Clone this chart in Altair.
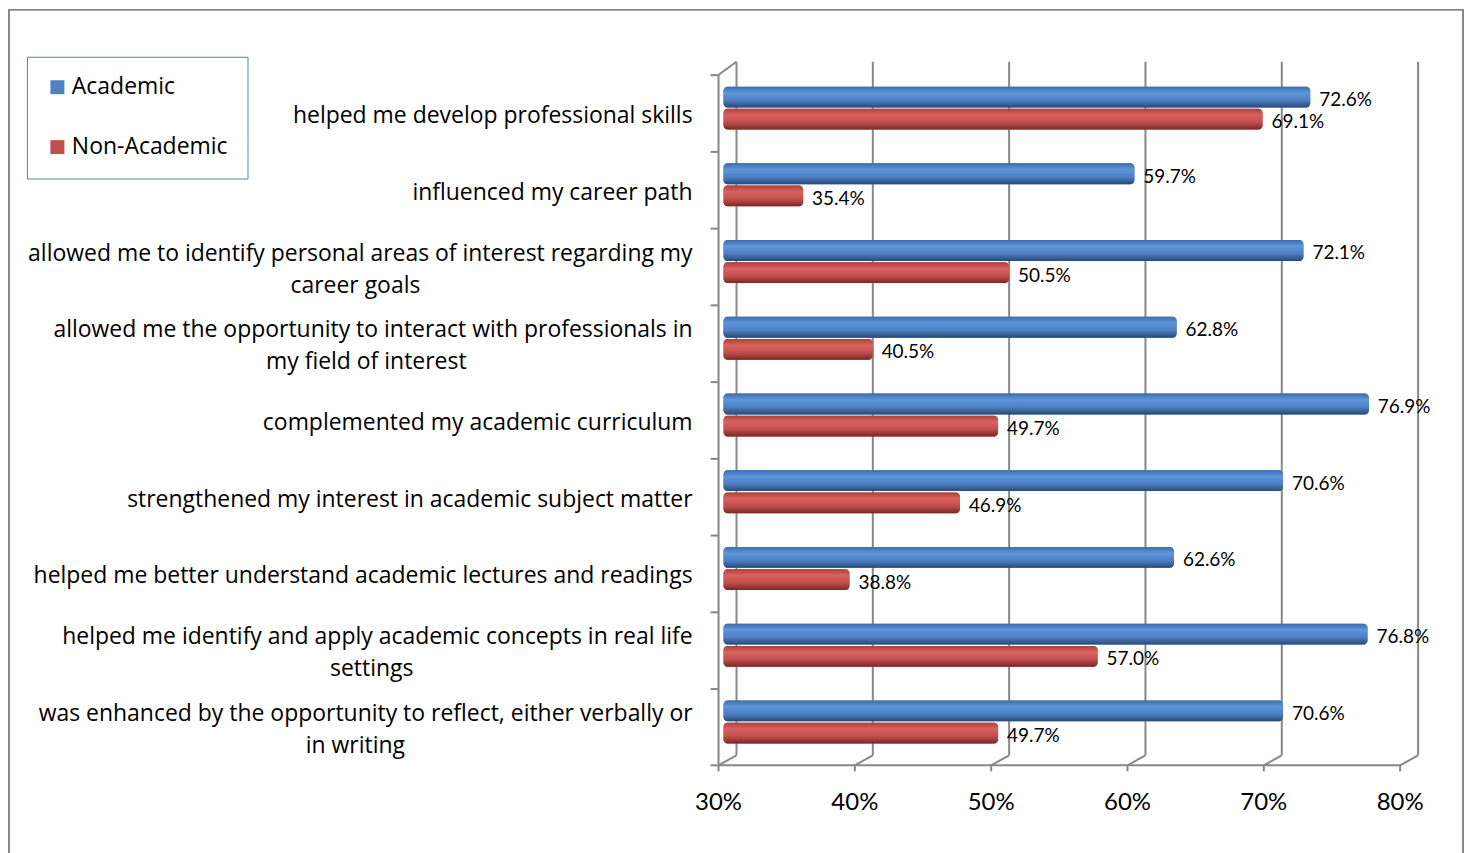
import altair as alt
import pandas as pd

categories = [
    "helped me develop professional skills",
    "influenced my career path",
    "allowed me to identify personal areas of interest regarding my|career goals",
    "allowed me the opportunity to interact with professionals in|my field of interest",
    "complemented my academic curriculum",
    "strengthened my interest in academic subject matter",
    "helped me better understand academic lectures and readings",
    "helped me identify and apply academic concepts in real life|settings",
    "was enhanced by the opportunity to reflect, either verbally or|in writing",
]
academic = [72.6, 59.7, 72.1, 62.8, 76.9, 70.6, 62.6, 76.8, 70.6]
non_academic = [69.1, 35.4, 50.5, 40.5, 49.7, 46.9, 38.8, 57.0, 49.7]
series = ["Academic", "Non-Academic"]
x_ticks = [30, 40, 50, 60, 70, 80]
tick_labels = ["30%", "40%", "50%", "60%", "70%", "80%"]

FONT = "Lato"
LFONT = "Open Sans"
GRID = "#878787"
BLUE = "#4F81BD"
RED = "#C0504D"

rows = []
for c, a, n in zip(categories, academic, non_academic):
    rows.append({"category": c, "series": "Academic", "value": a, "base": x_ticks[0]})
    rows.append({"category": c, "series": "Non-Academic", "value": n, "base": x_ticks[0]})
bar_df = pd.DataFrame(rows)
bar_df["label"] = bar_df["value"].map(lambda v: f"{v:.1f}%")

cat_df = pd.DataFrame({"category": categories})
cat_df["line1"] = [c.split("|")[0] for c in categories]
cat_df["line2"] = [c.split("|")[1] if "|" in c else "" for c in categories]
cat_df["two"] = [("|" in c) for c in categories]
cat_df["base"] = x_ticks[0]

tick_df = pd.DataFrame({"tick": x_ticks, "text": tick_labels})
axis_df = pd.DataFrame({"lo": [x_ticks[0]], "hi": [x_ticks[-1]]})

W, H = 683, 692
x_scale = alt.Scale(domain=[30, 80], nice=False, zero=False)
y_scale = alt.Scale(paddingInner=0.44, paddingOuter=0.22)
Y = alt.Y("category:N", sort=categories, scale=y_scale, axis=None)
YOFF = alt.YOffset("series:N", sort=series, scale=alt.Scale(paddingInner=0.06))


def grad(stops):
    return alt.LinearGradient(
        gradient="linear", x1=0, y1=0, x2=0, y2=1,
        stops=[alt.GradientStop(offset=o, color=c) for o, c in stops],
    )


grad_blue = grad([(0, "#3E6DAA"), (0.3, "#5E95DB"), (0.65, "#4D7FC2"), (1, "#284A78")])
grad_red = grad([(0, "#A9413E"), (0.3, "#DA625F"), (0.65, "#C24F4C"), (1, "#7A2826")])

frame = alt.Chart(axis_df).mark_rect(fillOpacity=0, stroke=GRID, strokeWidth=2).encode(
    x=alt.value(-722), x2=alt.value(735), y=alt.value(-60), y2=alt.value(820)
)

grid = alt.Chart(tick_df).mark_rule(color=GRID, strokeWidth=2, xOffset=7).encode(
    x=alt.X("tick:Q", scale=x_scale, axis=None), y=alt.value(-8), y2=alt.value(687)
)
floor = alt.Chart(tick_df).mark_rule(color=GRID, strokeWidth=2, xOffset=-11, x2Offset=7).encode(
    x=alt.X("tick:Q", scale=x_scale, axis=None), x2="tick:Q", y=alt.value(697), y2=alt.value(687)
)
ticks_down = alt.Chart(tick_df).mark_rule(color=GRID, strokeWidth=2, xOffset=-11).encode(
    x=alt.X("tick:Q", scale=x_scale, axis=None), y=alt.value(697), y2=alt.value(703)
)
axis_line = alt.Chart(axis_df).mark_rule(color=GRID, strokeWidth=2, xOffset=-11, x2Offset=-11).encode(
    x=alt.X("lo:Q", scale=x_scale, axis=None), x2="hi:Q", y=alt.value(697)
)
left_wall = alt.Chart(axis_df).mark_rule(color=GRID, strokeWidth=2, xOffset=-11).encode(
    x=alt.X("lo:Q", scale=x_scale, axis=None), y=alt.value(5), y2=alt.value(697)
)
top_diag = alt.Chart(axis_df).mark_rule(color=GRID, strokeWidth=2, xOffset=-11, x2Offset=7).encode(
    x=alt.X("lo:Q", scale=x_scale, axis=None), x2="lo:Q", y=alt.value(5), y2=alt.value(-8)
)
left_ticks = alt.Chart(cat_df).mark_rule(color=GRID, strokeWidth=2, xOffset=-19, x2Offset=-11, yOffset=-33).encode(
    y=Y, x=alt.X("base:Q", scale=x_scale, axis=None), x2="base:Q"
)
bottom_tick = alt.Chart(axis_df).mark_rule(color=GRID, strokeWidth=2, xOffset=-19, x2Offset=-11).encode(
    y=alt.value(697), x=alt.X("lo:Q", scale=x_scale, axis=None), x2="lo:Q"
)

bars_base = alt.Chart(bar_df).mark_bar(cornerRadius=4, x2Offset=-6).encode(
    y=Y, yOffset=YOFF,
    x=alt.X("value:Q", scale=x_scale, axis=None), x2="base:Q",
    color=alt.Color(
        "series:N",
        scale=alt.Scale(domain=series, range=[BLUE, RED]),
        legend=alt.Legend(
            orient="none", legendX=-704, legendY=-13, title=None,
            strokeColor=BLUE, fillColor="white", padding=19,
            symbolType="square", symbolSize=196, symbolStrokeWidth=0,
            labelFont=LFONT, labelFontSize=23, labelColor="#000000",
            labelOffset=3, rowPadding=36,
        ),
    ),
)
bars_blue = alt.Chart(bar_df).transform_filter(alt.datum.series == "Academic").mark_bar(
    cornerRadius=4, x2Offset=-6, fill=grad_blue
).encode(
    y=Y, yOffset=YOFF,
    x=alt.X("value:Q", scale=x_scale, axis=None), x2="base:Q",
)
bars_red = alt.Chart(bar_df).transform_filter(alt.datum.series == "Non-Academic").mark_bar(
    cornerRadius=4, x2Offset=-6, fill=grad_red
).encode(
    y=Y, yOffset=YOFF,
    x=alt.X("value:Q", scale=x_scale, axis=None), x2="base:Q",
)

value_labels = alt.Chart(bar_df).mark_text(
    align="left", baseline="middle", dx=9, dy=3, font=FONT, fontSize=19, color="#000000"
).encode(y=Y, yOffset=YOFF, x=alt.X("value:Q", scale=x_scale, axis=None), text="label:N")

cat_single = alt.Chart(cat_df).transform_filter("!datum.two").mark_text(
    align="right", baseline="middle", dx=-37, dy=8, font=LFONT, fontSize=23, color="#000000"
).encode(y=Y, x=alt.X("base:Q", scale=x_scale, axis=None), text="line1:N")
cat_line1 = alt.Chart(cat_df).transform_filter("datum.two").mark_text(
    align="right", baseline="middle", dx=-37, dy=-8, font=LFONT, fontSize=23, color="#000000"
).encode(y=Y, x=alt.X("base:Q", scale=x_scale, axis=None), text="line1:N")
cat_line2 = alt.Chart(cat_df).transform_filter("datum.two").transform_calculate(
    cx="-37 - length(datum.line1) * 5.45"
).mark_text(
    align="center", baseline="middle", dy=24, font=LFONT, fontSize=23, color="#000000"
).encode(y=Y, x=alt.X("cx:Q", scale=None, axis=None), text="line2:N")

axis_labels = alt.Chart(tick_df).mark_text(
    align="center", baseline="middle", dx=-11, font=FONT, fontSize=24, color="#000000"
).encode(x=alt.X("tick:Q", scale=x_scale, axis=None), y=alt.value(735), text="text:N")

chart = alt.layer(
    frame, grid, floor, ticks_down, axis_line, left_wall, top_diag, left_ticks, bottom_tick,
    bars_base, bars_blue, bars_red, value_labels, cat_single, cat_line1, cat_line2, axis_labels,
).properties(
    width=W, height=H,
    autosize=alt.AutoSizeParams(type="none"),
    padding={"left": 723, "top": 61, "right": 54, "bottom": 100},
    background="white",
).configure_view(stroke=None)

chart.save("out.html", embed_options={"renderer": "svg", "actions": False})
